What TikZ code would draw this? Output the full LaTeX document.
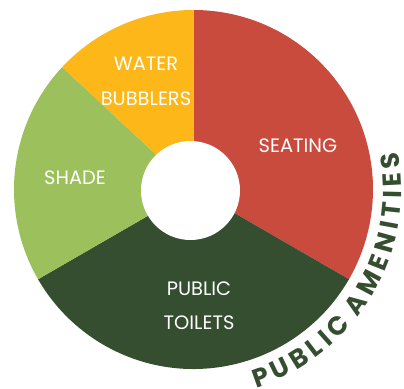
\documentclass[tikz,border=0pt]{standalone}
\usepackage{fontspec}
\setmainfont{Poppins}
\newfontfamily\archfam[WordSpace=0.15]{Poppins}
\usetikzlibrary{decorations.text}
\definecolor{cred}{HTML}{C94B3E}
\definecolor{cdark}{HTML}{344E2F}
\definecolor{clight}{HTML}{9CC05B}
\definecolor{cyellow}{HTML}{FDB718}
\newcommand{\archfont}{\archfam\fontsize{26}{28}\selectfont\bfseries\color{cdark}}
\tikzset{
  wedge/.style={draw=none},
  lbl/.style={text=white,font=\fontsize{19.5}{22}\selectfont,inner sep=0pt,anchor=center},
}
\begin{document}
\begin{tikzpicture}[x=1bp,y=1bp]
\useasboundingbox (0,0) rectangle (404,389);
\coordinate (c) at (193.5,199.5);
\coordinate (h) at (190.5,198.5);
\def\Ro{179.5}
\fill[wedge,cred] (c) -- ++(90:\Ro) arc[start angle=90,end angle=-30,radius=\Ro] -- cycle;
\fill[wedge,cdark] (c) -- ++(-30:\Ro) arc[start angle=-30,end angle=-150,radius=\Ro] -- cycle;
\fill[wedge,clight] (c) -- ++(210:\Ro) arc[start angle=210,end angle=137,radius=\Ro] -- cycle;
\fill[wedge,cyellow] (c) -- ++(137:\Ro) arc[start angle=137,end angle=90,radius=\Ro] -- cycle;
\fill[white] (h) circle[radius=49.5];
\node[lbl] (water) at (146,325) {WATER};
\node[lbl] (bubblers) at (146,290) {BUBBLERS};
\node[lbl] (shade) at (75,211) {SHADE};
\node[lbl] (seating) at (298,243) {SEATING};
\node[lbl] (public) at (199,100) {PUBLIC};
\node[lbl] (toilets) at (199,66) {TOILETS};
\path[decorate,decoration={text along path,text align={fit to path},
  text={|\archfont|PUBLIC AMENITIES}}]
  (c) ++(-72.5:208) arc[start angle=-72.5,end angle=10.5,radius=208];
\end{tikzpicture}
\end{document}
